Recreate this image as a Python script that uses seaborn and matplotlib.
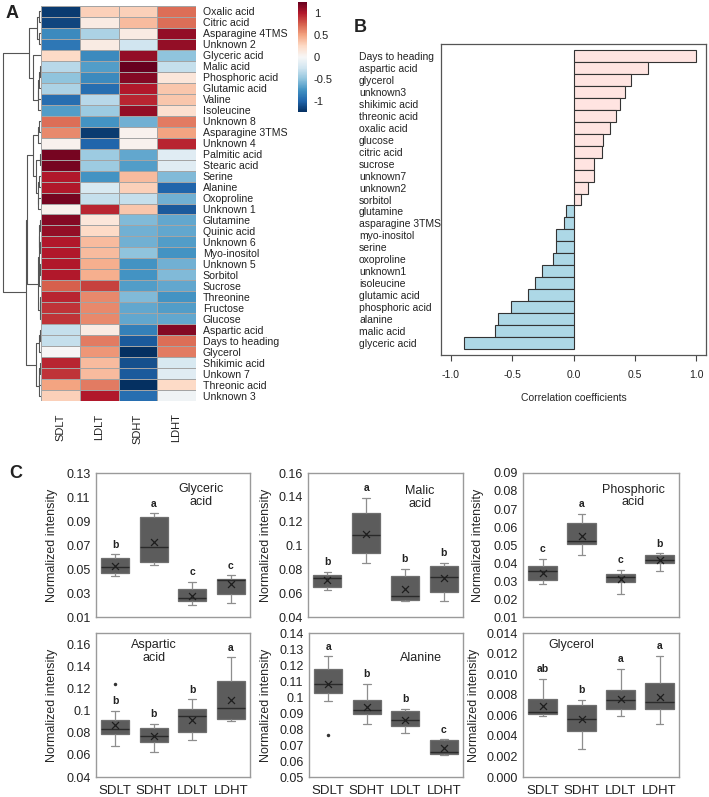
import numpy as np
import pandas as pd
import matplotlib
matplotlib.use('Agg')
import matplotlib.pyplot as plt
import seaborn as sns

# ---------------- panel A: heatmap of z-scored metabolite levels ----------------
metabolites = ['Oxalic acid', 'Citric acid', 'Asparagine 4TMS', 'Unknown 2', 'Glyceric acid',
               'Malic acid', 'Phosphoric acid', 'Glutamic acid', 'Valine', 'Isoleucine',
               'Unknown 8', 'Asparagine 3TMS', 'Unknown 4', 'Palmitic acid', 'Stearic acid',
               'Serine', 'Alanine', 'Oxoproline', 'Unknown 1', 'Glutamine', 'Quinic acid',
               'Unknown 6', 'Myo-inositol', 'Unknown 5', 'Sorbitol', 'Sucrose', 'Threonine',
               'Fructose', 'Glucose', 'Aspartic acid', 'Days to heading', 'Glycerol',
               'Shikimic acid', 'Unkown 7', 'Threonic acid', 'Unknown 3']
conditions = ['SDLT', 'LDLT', 'SDHT', 'LDHT']
z_sdlt = [-1.2, -1.15, -0.8, -0.9, 0.25, -0.35, -0.5, -0.4, -0.95, -0.7, 0.7, 0.6, 0.05,
          1.2, 1.2, 1.0, 1.0, 1.2, 0.05, 1.15, 1.1, 1.0, 1.0, 1.0, 1.0, 0.75, 0.95, 0.9, 0.9,
          -0.3, -0.3, 0.0, 0.95, 0.9, 0.5, 0.3]
z_ldlt = [0.3, 0.1, -0.4, 0.1, -0.8, -0.7, -0.8, -0.95, -0.35, -0.45, -0.75, -1.2, -1.0,
          -0.45, -0.45, -0.75, -0.2, -0.3, 0.95, 0.15, 0.25, 0.4, 0.4, 0.45, 0.45, 0.85, 0.6,
          0.6, 0.6, 0.1, 0.65, 0.55, 0.4, 0.4, 0.65, 1.0]
z_sdht = [0.3, 0.4, 0.1, -0.25, 1.1, 1.25, 1.15, 1.0, 0.95, 1.1, -0.6, 0.05, 0.05,
          -0.65, -0.7, 0.4, 0.3, -0.3, 0.35, -0.55, -0.6, -0.6, -0.5, -0.75, -0.75, -0.7,
          -0.55, -0.65, -0.65, -0.85, -1.05, -1.25, -1.1, -1.05, -1.3, -0.95]
z_ldht = [0.7, 0.7, 1.1, 1.1, -0.5, -0.3, 0.15, 0.35, 0.35, 0.2, 0.65, 0.5, 0.95,
          -0.15, -0.15, -0.55, -1.0, -0.6, -1.05, -0.65, -0.65, -0.7, -0.75, -0.6, -0.55,
          -0.65, -0.75, -0.7, -0.65, 1.15, 0.7, 0.65, -0.2, -0.15, 0.25, -0.05]
cbar_ticks = [-1, -0.5, 0, 0.5, 1]
cbar_labels = ['-1', '-0.5', '0', '0.5', '1']

# row dendrogram: (left, right, merge height), leaves are row indices
row_tree = (
    (((0, 1, 0.04), (2, 3, 0.05), 0.10),
     (4, ((((5, 6, 0.03), 7, 0.05), 8, 0.07), 9, 0.09), 0.21), 0.31),
    (((((10, 11, 0.06), 12, 0.09),
        ((13, 14, 0.02), ((15, 16, 0.05), (17, 18, 0.07), 0.09), 0.13), 0.20),
       ((((19, 20, 0.02), (21, 22, 0.02), 0.04), ((23, 24, 0.02), 25, 0.04), 0.06),
        ((26, 27, 0.02), 28, 0.03), 0.09), 0.37),
      (((29, 30, 0.03), 31, 0.05), (((32, 33, 0.02), 34, 0.04), 35, 0.06), 0.14), 0.39),
    1.0)

# ---------------- panel B: correlation with days to heading ----------------
corr_names = ['Days to heading', 'aspartic acid', 'glycerol', 'unknown3', 'shikimic acid',
              'threonic acid', 'oxalic acid', 'glucose', 'citric acid', 'sucrose', 'unknown7',
              'unknown2', 'sorbitol', 'glutamine', 'asparagine 3TMS', 'myo-inositol', 'serine',
              'oxoproline', 'unknown1', 'isoleucine', 'glutamic acid', 'phosphoric acid',
              'alanine', 'malic acid', 'glyceric acid']
corr_values = [1.0, 0.61, 0.47, 0.42, 0.38, 0.35, 0.30, 0.24, 0.235, 0.17, 0.165, 0.115,
               0.065, -0.065, -0.08, -0.14, -0.14, -0.17, -0.26, -0.31, -0.37, -0.51,
               -0.615, -0.64, -0.89]
corr_ticks = [-1.0, -0.5, 0.0, 0.5, 1.0]
corr_ticklabels = ['-1.0', '-0.5', '0.0', '0.5', '1.0']

# ---------------- panel C: box plots (min, q1, median, q3, max) ----------------
groups = ['SDLT', 'SDHT', 'LDLT', 'LDHT']

glyceric_box = [[0.0442, 0.0464, 0.0514, 0.0592, 0.0622],
                [0.0536, 0.0558, 0.0680, 0.0936, 0.0964],
                [0.0200, 0.0231, 0.0258, 0.0336, 0.0392],
                [0.0219, 0.0292, 0.0408, 0.0417, 0.0447]]
glyceric_mean = [0.0525, 0.0728, 0.0278, 0.0372]
glyceric_sig = ['b', 'a', 'c', 'c']
glyceric_ticks = [0.01, 0.03, 0.05, 0.07, 0.09, 0.11, 0.13]
glyceric_ticklabels = ['0.01', '0.03', '0.05', '0.07', '0.09', '0.11', '0.13']

malic_box = [[0.0622, 0.0650, 0.0728, 0.0748, 0.0776],
             [0.0847, 0.0933, 0.1087, 0.1266, 0.1390],
             [0.0531, 0.0545, 0.0574, 0.0739, 0.0802],
             [0.0531, 0.0611, 0.0731, 0.0827, 0.0853]]
malic_mean = [0.0710, 0.1090, 0.0631, 0.0722]
malic_sig = ['b', 'a', 'b', 'b']
malic_ticks = [0.04, 0.06, 0.08, 0.10, 0.12, 0.14, 0.16]
malic_ticklabels = ['0.04', '0.06', '0.08', '0.1', '0.12', '0.14', '0.16']

phosphoric_box = [[0.0286, 0.0304, 0.0356, 0.0384, 0.0425],
                  [0.0444, 0.0505, 0.0522, 0.0620, 0.0675],
                  [0.0226, 0.0293, 0.0323, 0.0340, 0.0362],
                  [0.0358, 0.0401, 0.0416, 0.0447, 0.0453]]
phosphoric_mean = [0.0347, 0.0550, 0.0310, 0.0416]
phosphoric_sig = ['c', 'a', 'c', 'b']
phosphoric_ticks = [0.01, 0.02, 0.03, 0.04, 0.05, 0.06, 0.07, 0.08, 0.09]
phosphoric_ticklabels = ['0.01', '0.02', '0.03', '0.04', '0.05', '0.06', '0.07', '0.08', '0.09']

aspartic_box = [[0.0677, 0.0789, 0.0834, 0.0915, 0.0997],
                [0.0622, 0.0716, 0.0767, 0.0846, 0.0882],
                [0.0731, 0.0803, 0.0948, 0.1015, 0.1102],
                [0.0903, 0.0924, 0.1027, 0.1271, 0.1479]]
aspartic_mean = [0.0870, 0.0770, 0.0918, 0.1093]
aspartic_sig = ['b', 'b', 'b', 'a']
aspartic_out_group = ['SDLT']
aspartic_out_value = [0.1244]
aspartic_ticks = [0.04, 0.06, 0.08, 0.10, 0.12, 0.14, 0.16]
aspartic_ticklabels = ['0.04', '0.06', '0.08', '0.1', '0.12', '0.14', '0.16']

alanine_box = [[0.0978, 0.1024, 0.1079, 0.1174, 0.1254],
               [0.0833, 0.0894, 0.0921, 0.0983, 0.1083],
               [0.0772, 0.0820, 0.0856, 0.0911, 0.0925],
               [0.0637, 0.0645, 0.0658, 0.0730, 0.0736]]
alanine_mean = [0.1080, 0.0938, 0.0856, 0.0679]
alanine_sig = ['a', 'b', 'b', 'c']
alanine_out_group = ['SDLT']
alanine_out_value = [0.0763]
alanine_ticks = [0.05, 0.06, 0.07, 0.08, 0.09, 0.10, 0.11, 0.12, 0.13, 0.14]
alanine_ticklabels = ['0.05', '0.06', '0.07', '0.08', '0.09', '0.1', '0.11', '0.12', '0.13', '0.14']

glycerol_box = [[0.00597, 0.00613, 0.00636, 0.00760, 0.00952],
                [0.00277, 0.00447, 0.00560, 0.00701, 0.00750],
                [0.00593, 0.00658, 0.00750, 0.00850, 0.01050],
                [0.00515, 0.00658, 0.00730, 0.00913, 0.01180]]
glycerol_mean = [0.00694, 0.00560, 0.00760, 0.00776]
glycerol_sig = ['ab', 'b', 'a', 'a']
glycerol_ticks = [0.0, 0.002, 0.004, 0.006, 0.008, 0.010, 0.012, 0.014]
glycerol_ticklabels = ['0.000', '0.002', '0.004', '0.006', '0.008', '0.010', '0.012', '0.014']


sns.set_style('white')
plt.rcParams['font.family'] = ['Liberation Sans', 'DejaVu Sans']
plt.rcParams['text.color'] = '#222222'
plt.rcParams['xtick.color'] = '#222222'
plt.rcParams['ytick.color'] = '#222222'

W, H = 709, 797
fig = plt.figure(figsize=(W / 100, H / 100), dpi=100)


def px(x0, y0, x1, y1):
    # pixel box (from top-left) -> figure fraction rect
    return [x0 / W, 1 - y1 / H, (x1 - x0) / W, (y1 - y0) / H]


# ---- A: dendrogram + heatmap
def draw_tree(ax, node):
    if isinstance(node, int):
        return node + 0.5, 0.0
    left, right, h = node
    yl, hl = draw_tree(ax, left)
    yr, hr = draw_tree(ax, right)
    ax.plot([hl, h, h, hr], [yl, yl, yr, yr], color='#555555', lw=0.8, clip_on=False)
    return (yl + yr) / 2, h


ax_den = fig.add_axes(px(2, 6, 41, 401))
draw_tree(ax_den, row_tree)
ax_den.set_xlim(1.02, 0)
ax_den.set_ylim(len(metabolites), 0)
ax_den.axis('off')

hm = pd.DataFrame({'SDLT': z_sdlt, 'LDLT': z_ldlt, 'SDHT': z_sdht, 'LDHT': z_ldht},
                  index=metabolites)[conditions]
ax_hm = fig.add_axes(px(41, 6, 196, 401))
cax = fig.add_axes(px(298, 2, 307, 112))
sns.heatmap(hm, ax=ax_hm, cbar_ax=cax, cmap='RdBu_r', vmin=-1.25, vmax=1.25,
            linewidths=0.6, linecolor='#a4a4a4')
ax_hm.yaxis.tick_right()
ax_hm.set_yticks(np.arange(len(metabolites)) + 0.5, metabolites, rotation=0, ha='left')
ax_hm.tick_params(axis='y', length=0, pad=5, labelsize=7.6)
ax_hm.set_xticks(np.arange(len(conditions)) + 0.5, conditions, rotation=90)
ax_hm.tick_params(axis='x', length=0, pad=9, labelsize=8)
ax_hm.set_xlabel('')
ax_hm.set_ylabel('')
ax_hm.collections[0].colorbar.outline.set_visible(False)
cax.set_yticks(cbar_ticks, cbar_labels)
cax.tick_params(length=0, labelsize=8, pad=5)

# ---- B: correlation bars
dfb = pd.DataFrame({'name': corr_names, 'r': corr_values})
dfb['sign'] = np.where(dfb['r'] > 0, 'pos', 'neg')
ax_b = fig.add_axes(px(441, 44, 706, 355))
ax_b.set_axisbelow(True)
ax_b.grid(axis='y', color='#d6d6d6', lw=0.8)
sns.barplot(data=dfb, x='r', y='name', hue='sign', orient='h',
            palette={'pos': '#ffe4e1', 'neg': '#add8e6'}, saturation=1, dodge=False,
            width=1.0, edgecolor='#333333', linewidth=0.8, legend=False, ax=ax_b)
ax_b.set_xlim(-1.08, 1.08)
ax_b.set_ylim(len(corr_names), -1)
ax_b.set_yticks(range(len(corr_names)), corr_names)
for lab in ax_b.get_yticklabels():
    lab.set_ha('left')
ax_b.get_yticklabels()[0].set_fontsize(7)
ax_b.tick_params(axis='y', length=0, pad=59, labelsize=7.5)
ax_b.set_xticks(corr_ticks, corr_ticklabels)
ax_b.tick_params(axis='x', bottom=True, length=4, width=0.8, color='#444444', pad=7,
                 labelsize=7.5)
ax_b.set_ylabel('')
ax_b.set_xlabel('Correlation coefficients', fontsize=7.5, labelpad=9)
for sp in ax_b.spines.values():
    sp.set_color('#555555')
    sp.set_linewidth(0.9)


# ---- C: box plots
def box_panel(rect, box, means, sig, title, title_xy, ylim, ticks, ticklabels,
              ylab_x, show_x, out_group=None, out_value=None):
    ax = fig.add_axes(rect)
    rows = [(g, v) for g, vals in zip(groups, box) for v in vals]
    df = pd.DataFrame(rows, columns=['group', 'value'])
    sns.boxplot(data=df, x='group', y='value', order=groups, ax=ax, whis=(0, 100),
                width=0.72, color='#5c5c5c', saturation=1, linewidth=0.9,
                boxprops=dict(facecolor='#5c5c5c', edgecolor='#6e6e6e'),
                whiskerprops=dict(color='#8e8e8e'), capprops=dict(color='#8e8e8e'),
                medianprops=dict(color='#2a2a2a', linewidth=1.0), capwidths=0.2)
    sns.stripplot(x=groups, y=means, order=groups, jitter=False, marker='x', size=5,
                  color='#1e1e1e', linewidth=0.9, ax=ax)
    if out_group is not None:
        sns.stripplot(x=out_group, y=out_value, order=groups, jitter=False, marker='o',
                      size=2.5, color='#333333', linewidth=0, ax=ax)
    for i, (vals, s) in enumerate(zip(box, sig)):
        ax.annotate(s, xy=(i, vals[-1]), xytext=(0, 7), textcoords='offset points',
                    ha='center', va='center', fontsize=7.5, fontweight='bold')
    ax.text(title_xy[0], title_xy[1], title, transform=ax.transAxes, ha='center',
            va='center', fontsize=9, linespacing=1.05)
    ax.set_xlim(-0.5, 3.5)
    ax.set_ylim(*ylim)
    ax.set_yticks(ticks, ticklabels)
    ax.tick_params(axis='both', length=0, labelsize=9)
    ax.tick_params(axis='y', pad=4)
    ax.tick_params(axis='x', pad=6, labelsize=9.5, labelbottom=show_x)
    ax.set_xlabel('')
    ax.set_ylabel('Normalized intensity', fontsize=9)
    ax.yaxis.set_label_coords(ylab_x, 0.5)
    for sp in ax.spines.values():
        sp.set_color('#9a9a9a')
        sp.set_linewidth(1.0)
    return ax


box_panel(px(96, 473, 250, 617), glyceric_box, glyceric_mean, glyceric_sig,
          'Glyceric\nacid', (0.68, 0.845), (0.01, 0.13), glyceric_ticks,
          glyceric_ticklabels, -38 / 154, False)
box_panel(px(308, 473, 463, 617), malic_box, malic_mean, malic_sig,
          'Malic\nacid', (0.72, 0.83), (0.04, 0.16), malic_ticks,
          malic_ticklabels, -36 / 155, False)
box_panel(px(523, 473, 679, 617), phosphoric_box, phosphoric_mean, phosphoric_sig,
          'Phosphoric\nacid', (0.705, 0.84), (0.01, 0.09), phosphoric_ticks,
          phosphoric_ticklabels, -39 / 156, False)
box_panel(px(96, 633, 250, 777), aspartic_box, aspartic_mean, aspartic_sig,
          'Aspartic\nacid', (0.377, 0.87), (0.04, 0.17), aspartic_ticks,
          aspartic_ticklabels, -38 / 154, True, aspartic_out_group, aspartic_out_value)
box_panel(px(309, 633, 463, 777), alanine_box, alanine_mean, alanine_sig,
          'Alanine', (0.73, 0.826), (0.05, 0.14), alanine_ticks,
          alanine_ticklabels, -37 / 154, True, alanine_out_group, alanine_out_value)
box_panel(px(523, 633, 679, 777), glycerol_box, glycerol_mean, glycerol_sig,
          'Glycerol', (0.31, 0.917), (0.0, 0.014), glycerol_ticks,
          glycerol_ticklabels, -43 / 156, True)

# panel letters
for letter, x, y in [('A', 12, 13), ('B', 360, 27), ('C', 16, 474)]:
    fig.text(x / W, 1 - y / H, letter, fontsize=13, fontweight='bold', ha='center',
             va='center', family=['Liberation Sans', 'DejaVu Sans'])

fig.savefig('out.png', dpi=100, facecolor='white')
